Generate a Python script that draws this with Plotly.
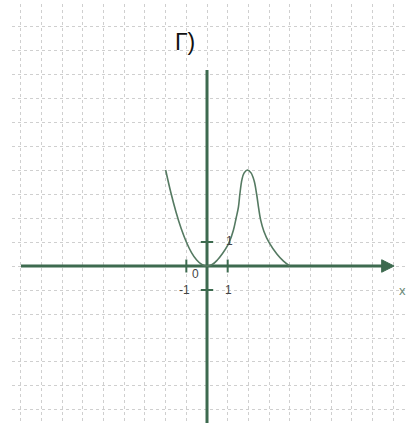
import plotly.graph_objects as go

# curve
curve_x = [-2, -1.75, -1.5, -1.25, -1, -0.75, -0.5, -0.25, 0, 0.25, 0.5, 0.75, 1.0, 1.08,
           1.28, 1.41, 1.52, 1.59, 1.69, 1.79, 1.95, 2.13, 2.28, 2.4, 2.5, 2.6, 2.75,
           3.0, 3.38, 3.7, 4.0]
curve_y = [4, 3.06, 2.25, 1.56, 1, 0.56, 0.25, 0.06, 0, 0.06, 0.25, 0.52, 0.86, 1.0,
           1.5, 2.0, 2.45, 3.0, 3.6, 3.87, 4.0, 3.88, 3.55, 3.0, 2.4, 1.9, 1.45,
           0.98, 0.5, 0.2, 0]

tick_labels = ["0", "-1", "1", "1"]
title_text = "Г)"

AX = "#3d6a4f"
CV = "#557a62"

fig = go.Figure()

# axes
fig.add_trace(go.Scatter(x=[-9, 8.6], y=[0, 0], mode="lines",
                         line=dict(color=AX, width=3), hoverinfo="skip"))
fig.add_trace(go.Scatter(x=[8.45, 9.05, 8.45, 8.45], y=[0.26, 0, -0.26, 0.26], mode="lines",
                         fill="toself", fillcolor=AX, line=dict(color=AX, width=1), hoverinfo="skip"))
fig.add_trace(go.Scatter(x=[0, 0], y=[8.17, -7], mode="lines",
                         line=dict(color=AX, width=3), hoverinfo="skip"))
# ticks
for tx in [-1, 1]:
    fig.add_trace(go.Scatter(x=[tx, tx], y=[-0.27, 0.27], mode="lines",
                             line=dict(color=AX, width=2), hoverinfo="skip"))
for ty in [-1, 1]:
    fig.add_trace(go.Scatter(x=[-0.3, 0.3], y=[ty, ty], mode="lines",
                             line=dict(color=AX, width=2), hoverinfo="skip"))

# curve
fig.add_trace(go.Scatter(x=curve_x, y=curve_y, mode="lines", line_shape="spline",
                         line=dict(color=CV, width=1.6), hoverinfo="skip"))

lab_font = dict(family="Liberation Sans", size=12, color="#444444")
fig.add_annotation(x=-0.55, y=-0.32, text=tick_labels[0], showarrow=False, font=lab_font)
fig.add_annotation(x=-1.1, y=-1.0, text=tick_labels[1], showarrow=False, font=lab_font)
fig.add_annotation(x=1.05, y=-1.0, text=tick_labels[2], showarrow=False, font=lab_font)
fig.add_annotation(x=1.1, y=1.05, text=tick_labels[3], showarrow=False, font=lab_font)
fig.add_annotation(x=9.45, y=-1.0, text="x", showarrow=False,
                   font=dict(family="Liberation Sans", size=13, color="#6a8a76"))

# white box behind title
fig.add_shape(type="rect", x0=-2.13, x1=0.63, y0=8.17, y1=10.25, xref="x", yref="y",
              fillcolor="white", line=dict(width=0), layer="below")
fig.add_annotation(x=-1.05, y=9.35, text=title_text, showarrow=False,
                   font=dict(family="Liberation Sans", size=23, color="#111111"))

fig.update_layout(
    width=406, height=423, margin=dict(l=12, r=0, t=4, b=0),
    paper_bgcolor="white", plot_bgcolor="white", showlegend=False,
    xaxis=dict(range=[-9.434, 9.627], dtick=1, tick0=0, showgrid=True, gridcolor="#cfcfcf",
               griddash="dot", gridwidth=1, zeroline=False, showticklabels=False, ticks="",
               fixedrange=True),
    yaxis=dict(range=[-6.542, 10.917], dtick=1, tick0=0, showgrid=True, gridcolor="#cfcfcf",
               griddash="dot", gridwidth=1, zeroline=False, showticklabels=False, ticks="",
               fixedrange=True),
)

fig.write_html("out.html", config={"displayModeBar": False},
               post_script="document.body.style.margin='0';document.body.style.overflow='hidden';")
